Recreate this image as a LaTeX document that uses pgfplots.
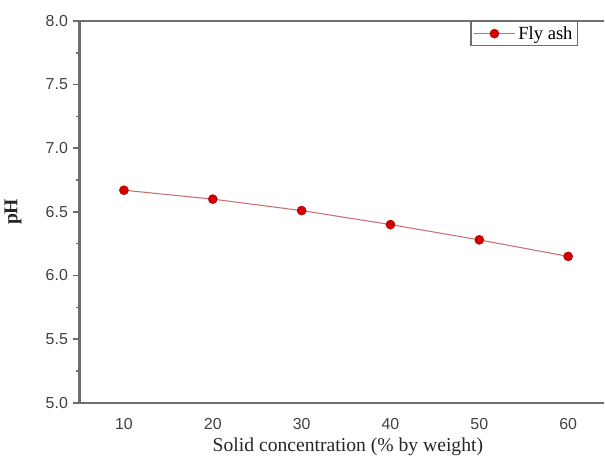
\documentclass[border=0pt]{standalone}
\usepackage{fontspec}
\setmainfont{Liberation Serif}
\setsansfont{Liberation Sans}
\usepackage{pgfplots}
\pgfplotsset{compat=1.18}
\definecolor{axgray}{HTML}{6E6E6E}
\definecolor{linecol}{HTML}{C87070}
\definecolor{markred}{HTML}{D40000}
\begin{document}
\begin{tikzpicture}
\begin{axis}[
  scale only axis,
  width=395.25pt, height=288pt,
  xmin=5, xmax=64, ymin=5, ymax=8,
  axis x line=box, axis y line=left,
  axis line style={axgray, line width=2pt, -},
  xtick={10,20,30,40,50,60},
  ytick={5,5.5,6,6.5,7,7.5,8},
  minor y tick num=1,
  tick align=outside,
  major tick length=5.25pt, minor tick length=3pt,
  every tick/.style={axgray, line width=1.2pt},
  major x tick style={draw=none},
  tick label style={font=\sffamily\fontsize{12}{14}\selectfont, text=black!75},
  /pgf/number format/assume math mode=true,
  yticklabel style={/pgf/number format/.cd, fixed, fixed zerofill, precision=1},
  xticklabel style={yshift=-3pt},
  xlabel={Solid concentration (\% by weight)},
  ylabel={\textbf{pH}},
  label style={font=\fontsize{14.8}{16}\selectfont, text=black!85},
  xlabel style={at={(rel axis cs:0.512,-0.115)}, anchor=center},
  ylabel style={at={(rel axis cs:-0.127,0.5)}, anchor=center},
  legend style={at={(rel axis cs:0.9507,1.0)}, anchor=north east, draw=axgray, line width=1pt, font=\fontsize{14}{15}\selectfont, inner sep=1.5pt, row sep=0pt},
  legend image code/.code={\draw[mark repeat=2, mark phase=2] plot coordinates {(0cm,0cm) (0.55cm,0cm) (1.1cm,0cm)};},
  legend cell align=left,
  clip=false,
]
\addplot[linecol, line width=0.8pt, mark=*, mark size=3.4pt, mark options={fill=markred, draw=markred!80!black, line width=0.4pt}]
  coordinates {(10,6.67) (20,6.60) (30,6.51) (40,6.40) (50,6.28) (60,6.15)};
\addlegendentry{Fly ash}
\path[use as bounding box] (rel axis cs:-0.146,1.0547) rectangle (rel axis cs:1.0019,-0.1406);
\end{axis}
\end{tikzpicture}
\end{document}
